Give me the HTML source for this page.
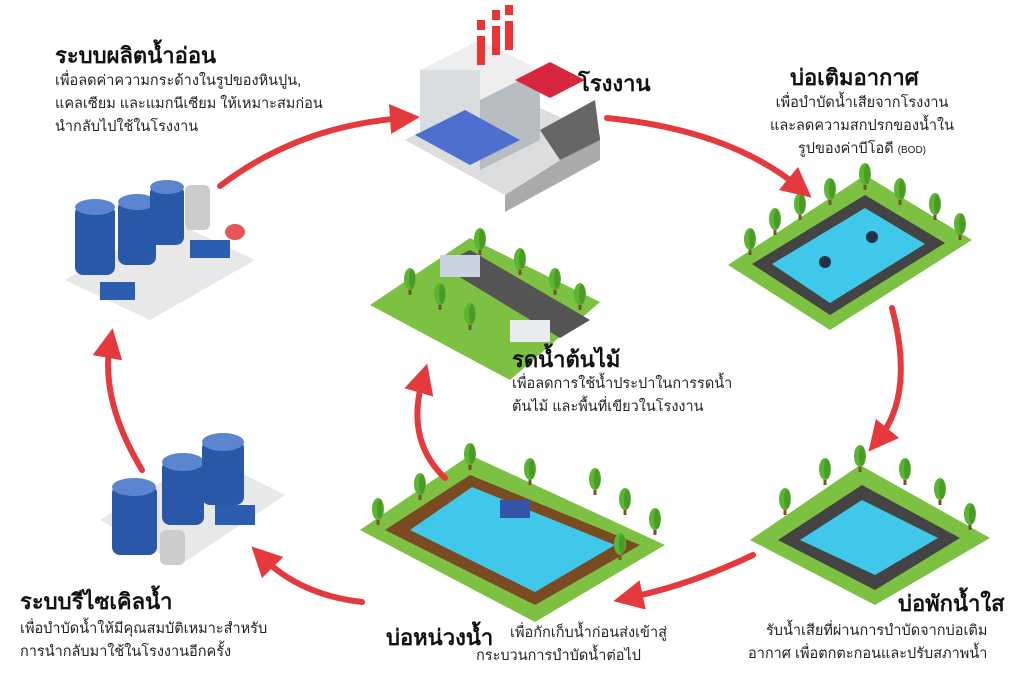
<!DOCTYPE html>
<html><head><meta charset="utf-8">
<style>
html,body{margin:0;padding:0;background:#fff;}
#wrap{position:relative;width:1024px;height:674px;overflow:hidden;font-family:"Liberation Sans","Noto Sans CJK SC",sans-serif;color:#222;}
.t{position:absolute;font-weight:bold;font-size:22px;color:#111;white-space:nowrap;}
.d{position:absolute;font-size:14.5px;line-height:23px;color:#222;white-space:nowrap;}
svg{position:absolute;left:0;top:0;}
</style></head>
<body>
<div id="wrap">
<svg width="1024" height="674" viewBox="0 0 1024 674">
<defs>
<marker id="ah" markerWidth="5" markerHeight="5" refX="2.5" refY="2.5" orient="auto" markerUnits="strokeWidth"><path d="M0,0 L5,2.5 L0,5 Z" fill="#e53a3d"/></marker>
<g id="tree"><rect x="-1.5" y="0" width="3" height="10" fill="#7a5230"/><ellipse cx="0" cy="-6" rx="6" ry="11" fill="#5cb531"/><ellipse cx="2" cy="-6" rx="3" ry="10" fill="#4a9a26"/></g>
</defs>
<g>
<polygon points="405,140 500,90 600,135 505,195" fill="#ddd"/>
<polygon points="505,195 600,135 600,160 505,212" fill="#aaa"/>
<polygon points="420,70 480,40 540,70 480,100" fill="#eee"/>
<rect x="420" y="70" width="60" height="75" fill="#d9dde0"/>
<polygon points="480,100 540,70 540,140 480,170" fill="#b8bdc2"/>
<rect x="477" y="20" width="8" height="45" fill="#e33"/><rect x="477" y="30" width="8" height="6" fill="#fff"/>
<rect x="492" y="10" width="8" height="45" fill="#e33"/><rect x="492" y="20" width="8" height="6" fill="#fff"/>
<rect x="505" y="5" width="8" height="45" fill="#e33"/><rect x="505" y="15" width="8" height="6" fill="#fff"/>
<polygon points="515,80 550,62 585,80 550,98" fill="#d7263d"/>
<polygon points="415,135 470,165 520,140 465,110" fill="#4d6fd0"/>
<polygon points="540,130 595,100 600,140 560,160" fill="#666"/>
</g>
<g>
<polygon points="65,280 170,220 255,260 150,320" fill="#e8e8e8"/>
<rect x="75" y="205" width="40" height="70" rx="8" fill="#2a58a8"/><ellipse cx="95" cy="207" rx="20" ry="8" fill="#5b86cf"/>
<rect x="118" y="200" width="38" height="65" rx="8" fill="#2a58a8"/><ellipse cx="137" cy="202" rx="19" ry="8" fill="#5b86cf"/>
<rect x="150" y="185" width="34" height="60" rx="8" fill="#2a58a8"/><ellipse cx="167" cy="187" rx="17" ry="7" fill="#5b86cf"/>
<rect x="185" y="185" width="25" height="45" rx="6" fill="#ccc"/>
<rect x="100" y="282" width="35" height="18" fill="#2d5db0"/><rect x="190" y="240" width="40" height="18" fill="#2d5db0"/>
<ellipse cx="235" cy="232" rx="10" ry="8" fill="#e85555"/>
</g>
<g>
<polygon points="865,175 972,240 830,330 728,265" fill="#7cc142"/>
<polygon points="865,195 945,243 830,315 752,264" fill="#444"/>
<polygon points="865,208 925,244 830,303 772,264" fill="#3fc8ea"/>
<circle cx="825" cy="262" r="6" fill="#234"/><circle cx="872" cy="237" r="6" fill="#234"/>
<use href="#tree" x="750" y="245"/><use href="#tree" x="775" y="225"/><use href="#tree" x="800" y="210"/><use href="#tree" x="830" y="195"/><use href="#tree" x="865" y="180"/><use href="#tree" x="900" y="195"/><use href="#tree" x="935" y="210"/><use href="#tree" x="960" y="230"/>
</g>
<g>
<polygon points="470,238 600,302 510,380 370,305" fill="#7cc142"/>
<polygon points="440,265 470,250 590,320 560,338" fill="#555"/>
<rect x="440" y="255" width="40" height="22" fill="#c9d4e0"/><rect x="510" y="320" width="40" height="22" fill="#e8ecf0"/>
<use href="#tree" x="410" y="285"/><use href="#tree" x="440" y="300"/><use href="#tree" x="480" y="245"/><use href="#tree" x="520" y="265"/><use href="#tree" x="555" y="285"/><use href="#tree" x="580" y="300"/><use href="#tree" x="470" y="320"/>
</g>
<g>
<polygon points="100,520 205,455 285,495 180,565" fill="#e8e8e8"/>
<rect x="112" y="485" width="45" height="70" rx="8" fill="#2a58a8"/><ellipse cx="134" cy="487" rx="22" ry="9" fill="#5b86cf"/>
<rect x="162" y="460" width="42" height="65" rx="8" fill="#2a58a8"/><ellipse cx="183" cy="462" rx="21" ry="9" fill="#5b86cf"/>
<rect x="202" y="440" width="42" height="65" rx="8" fill="#2a58a8"/><ellipse cx="223" cy="442" rx="21" ry="9" fill="#5b86cf"/>
<rect x="160" y="530" width="25" height="35" rx="6" fill="#ccc"/><rect x="215" y="505" width="40" height="20" fill="#2d5db0"/>
</g>
<g>
<polygon points="470,455 665,545 535,622 360,530" fill="#7cc142"/>
<polygon points="470,475 640,545 535,605 385,530" fill="#7a4a22"/>
<polygon points="472,487 615,545 535,592 410,530" fill="#3fc8ea"/>
<rect x="500" y="500" width="30" height="18" fill="#3355aa"/>
<use href="#tree" x="378" y="515"/><use href="#tree" x="420" y="490"/><use href="#tree" x="470" y="460"/><use href="#tree" x="530" y="475"/><use href="#tree" x="595" y="485"/><use href="#tree" x="625" y="505"/><use href="#tree" x="655" y="525"/><use href="#tree" x="620" y="550"/>
</g>
<g>
<polygon points="860,465 990,538 875,605 750,540" fill="#7cc142"/>
<polygon points="862,485 960,538 875,590 778,540" fill="#444"/>
<polygon points="862,500 938,538 875,575 800,540" fill="#3fc8ea"/>
<use href="#tree" x="785" y="505"/><use href="#tree" x="825" y="475"/><use href="#tree" x="860" y="462"/><use href="#tree" x="905" y="475"/><use href="#tree" x="940" y="495"/><use href="#tree" x="970" y="520"/>
</g>
<g fill="none" stroke="#e53a3d" stroke-width="6" stroke-linecap="round">
<path d="M220,186 Q300,125 405,118" marker-end="url(#ah)"/>
<path d="M607,118 Q730,130 800,188" marker-end="url(#ah)"/>
<path d="M892,308 Q915,395 878,440" marker-end="url(#ah)"/>
<path d="M753,555 Q690,585 628,598" marker-end="url(#ah)"/>
<path d="M362,602 Q300,595 262,557" marker-end="url(#ah)"/>
<path d="M142,470 Q100,400 110,343" marker-end="url(#ah)"/>
<path d="M445,478 Q405,440 423,378" marker-end="url(#ah)"/>
</g>
</svg>
<div class="t" style="left:55px;top:38px">ระบบผลิตน้ำอ่อน</div>
<div class="d" style="left:55px;top:70px">เพื่อลดค่าความกระด้างในรูปของหินปูน,<br>แคลเซียม และแมกนีเซียม ให้เหมาะสมก่อน<br>นำกลับไปใช้ในโรงงาน</div>
<div class="t" style="left:578px;top:66px">โรงงาน</div>
<div class="t" style="left:790px;top:60px">บ่อเติมอากาศ</div>
<div class="d" style="left:770px;top:92px;text-align:center">เพื่อบำบัดน้ำเสียจากโรงงาน<br>และลดความสกปรกของน้ำใน<br>รูปของค่าบีโอดี <span style="font-size:10px">(BOD)</span></div>
<div class="t" style="left:512px;top:342px">รดน้ำต้นไม้</div>
<div class="d" style="left:512px;top:373px">เพื่อลดการใช้น้ำประปาในการรดน้ำ<br>ต้นไม้ และพื้นที่เขียวในโรงงาน</div>
<div class="t" style="left:20px;top:584px">ระบบรีไซเคิลน้ำ</div>
<div class="d" style="left:20px;top:618px">เพื่อบำบัดน้ำให้มีคุณสมบัติเหมาะสำหรับ<br>การนำกลับมาใช้ในโรงงานอีกครั้ง</div>
<div class="t" style="left:386px;top:620px">บ่อหน่วงน้ำ</div>
<div class="d" style="left:510px;top:622px">เพื่อกักเก็บน้ำก่อนส่งเข้าสู่</div>
<div class="d" style="left:476px;top:645px">กระบวนการบำบัดน้ำต่อไป</div>
<div class="t" style="left:898px;top:586px">บ่อพักน้ำใส</div>
<div class="d" style="left:748px;top:620px;text-align:right">รับน้ำเสียที่ผ่านการบำบัดจากบ่อเติม<br>อากาศ เพื่อตกตะกอนและปรับสภาพน้ำ</div>
</div>
</body></html>
